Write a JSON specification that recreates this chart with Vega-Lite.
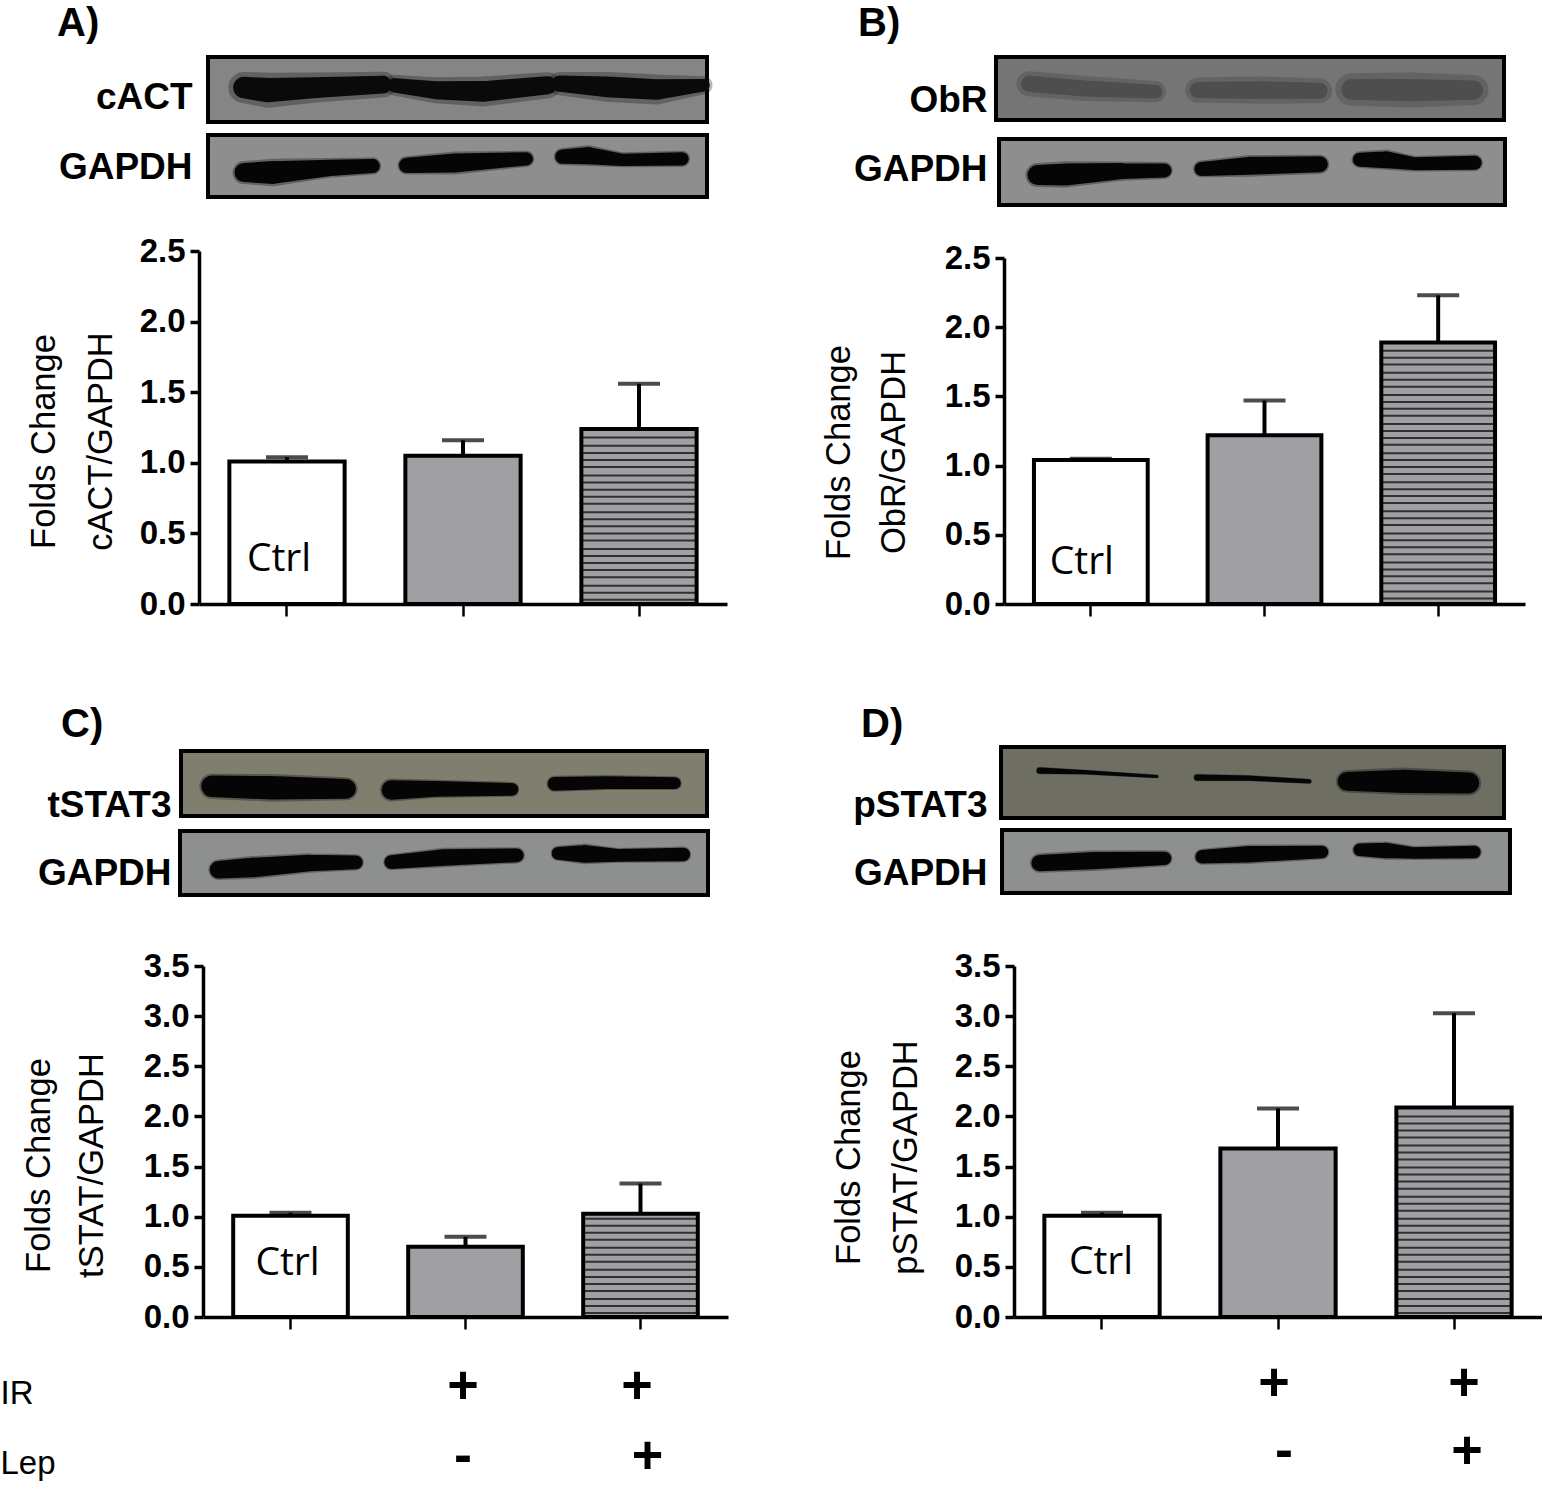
{"$schema":"https://vega.github.io/schema/vega-lite/v6.json","background":"white","padding":{"top":4,"left":0,"right":0,"bottom":0},"bounds":"flush","columns":2,"align":"each","spacing":{"row":0,"column":277},
"config":{"view":{"stroke":null},"axis":{"labelFont":"Liberation Sans","titleFont":"Liberation Sans","labelColor":"#000","titleColor":"#000","grid":false},"text":{"color":"#000"}},
"datasets":{
"bands":[
{"l":"A1","b":1,"x":7.2,"y":0.53,"t":0.24},{"l":"A1","b":1,"x":12,"y":0.49,"t":0.27},{"l":"A1","b":1,"x":21.6,"y":0.53,"t":0.23},{"l":"A1","b":1,"x":35,"y":0.575,"t":0.2},
{"l":"A1","b":2,"x":37.4,"y":0.565,"t":0.16},{"l":"A1","b":2,"x":45.6,"y":0.49,"t":0.2},{"l":"A1","b":2,"x":55.2,"y":0.47,"t":0.23},{"l":"A1","b":2,"x":68.1,"y":0.565,"t":0.2},
{"l":"A1","b":3,"x":70.5,"y":0.59,"t":0.18},{"l":"A1","b":3,"x":80,"y":0.54,"t":0.23},{"l":"A1","b":3,"x":89.9,"y":0.5,"t":0.23},{"l":"A1","b":3,"x":99.3,"y":0.565,"t":0.14},
{"l":"A2","b":1,"x":7.2,"y":0.395,"t":0.2},{"l":"A2","b":1,"x":13,"y":0.395,"t":0.24},{"l":"A2","b":1,"x":24.5,"y":0.47,"t":0.17},{"l":"A2","b":1,"x":33,"y":0.5,"t":0.15},
{"l":"A2","b":2,"x":39.8,"y":0.51,"t":0.16},{"l":"A2","b":2,"x":49.4,"y":0.55,"t":0.2},{"l":"A2","b":2,"x":63.8,"y":0.615,"t":0.14},
{"l":"A2","b":3,"x":71,"y":0.65,"t":0.15},{"l":"A2","b":3,"x":76.3,"y":0.667,"t":0.18},{"l":"A2","b":3,"x":83,"y":0.6,"t":0.13},{"l":"A2","b":3,"x":95,"y":0.615,"t":0.14},
{"l":"B1","b":1,"x":6.5,"y":0.575,"t":0.2},{"l":"B1","b":1,"x":17.5,"y":0.5,"t":0.2},{"l":"B1","b":1,"x":31.4,"y":0.45,"t":0.17},
{"l":"B1","b":2,"x":39.7,"y":0.475,"t":0.2},{"l":"B1","b":2,"x":51.7,"y":0.475,"t":0.22},{"l":"B1","b":2,"x":63.7,"y":0.465,"t":0.2},
{"l":"B1","b":3,"x":70,"y":0.485,"t":0.26},{"l":"B1","b":3,"x":82,"y":0.475,"t":0.28},{"l":"B1","b":3,"x":94,"y":0.475,"t":0.24},
{"l":"B2","b":1,"x":7.6,"y":0.453,"t":0.2},{"l":"B2","b":1,"x":13.2,"y":0.463,"t":0.22},{"l":"B2","b":1,"x":24.3,"y":0.514,"t":0.16},{"l":"B2","b":1,"x":32.7,"y":0.523,"t":0.14},
{"l":"B2","b":2,"x":40,"y":0.547,"t":0.14},{"l":"B2","b":2,"x":49.4,"y":0.593,"t":0.18},{"l":"B2","b":2,"x":63.4,"y":0.617,"t":0.16},
{"l":"B2","b":3,"x":71.3,"y":0.687,"t":0.14},{"l":"B2","b":3,"x":76.4,"y":0.687,"t":0.17},{"l":"B2","b":3,"x":82,"y":0.626,"t":0.13},{"l":"B2","b":3,"x":94,"y":0.64,"t":0.14},
{"l":"C1","b":1,"x":5.9,"y":0.457,"t":0.22},{"l":"C1","b":1,"x":17.3,"y":0.433,"t":0.24},{"l":"C1","b":1,"x":31.4,"y":0.418,"t":0.2},
{"l":"C1","b":2,"x":40,"y":0.4,"t":0.2},{"l":"C1","b":2,"x":48.3,"y":0.418,"t":0.16},{"l":"C1","b":2,"x":62.9,"y":0.41,"t":0.13},
{"l":"C1","b":3,"x":71,"y":0.495,"t":0.14},{"l":"C1","b":3,"x":81,"y":0.514,"t":0.13},{"l":"C1","b":3,"x":93.9,"y":0.505,"t":0.12},
{"l":"C2","b":1,"x":7.3,"y":0.395,"t":0.18},{"l":"C2","b":1,"x":13.7,"y":0.429,"t":0.2},{"l":"C2","b":1,"x":24.6,"y":0.5,"t":0.17},{"l":"C2","b":1,"x":33.3,"y":0.51,"t":0.14},
{"l":"C2","b":2,"x":40,"y":0.514,"t":0.14},{"l":"C2","b":2,"x":50,"y":0.586,"t":0.17},{"l":"C2","b":2,"x":63.8,"y":0.619,"t":0.14},
{"l":"C2","b":3,"x":71.6,"y":0.652,"t":0.13},{"l":"C2","b":3,"x":76.6,"y":0.643,"t":0.18},{"l":"C2","b":3,"x":83,"y":0.619,"t":0.13},{"l":"C2","b":3,"x":95.3,"y":0.633,"t":0.14},
{"l":"D1","b":1,"x":7.7,"y":0.668,"t":0.06},{"l":"D1","b":1,"x":16.5,"y":0.645,"t":0.04},{"l":"D1","b":1,"x":31,"y":0.585,"t":0.03},
{"l":"D1","b":2,"x":39,"y":0.57,"t":0.06},{"l":"D1","b":2,"x":49.2,"y":0.562,"t":0.05},{"l":"D1","b":2,"x":61.3,"y":0.516,"t":0.04},
{"l":"D1","b":3,"x":68.8,"y":0.516,"t":0.18},{"l":"D1","b":3,"x":80,"y":0.516,"t":0.22},{"l":"D1","b":3,"x":93,"y":0.493,"t":0.2},
{"l":"D2","b":1,"x":7.4,"y":0.475,"t":0.17},{"l":"D2","b":1,"x":18,"y":0.515,"t":0.18},{"l":"D2","b":1,"x":32,"y":0.55,"t":0.14},
{"l":"D2","b":2,"x":39.4,"y":0.575,"t":0.14},{"l":"D2","b":2,"x":48.6,"y":0.615,"t":0.17},{"l":"D2","b":2,"x":63,"y":0.65,"t":0.13},
{"l":"D2","b":3,"x":70.4,"y":0.685,"t":0.13},{"l":"D2","b":3,"x":75.5,"y":0.675,"t":0.16},{"l":"D2","b":3,"x":81,"y":0.635,"t":0.12},{"l":"D2","b":3,"x":93,"y":0.65,"t":0.13}
],
"bars":[
{"p":"A","g":"Ctrl","v":1.01,"hi":1.04},{"p":"A","g":"IR","v":1.05,"hi":1.16},{"p":"A","g":"IR+Lep","v":1.24,"hi":1.56},
{"p":"B","g":"Ctrl","v":1.04,"hi":1.05},{"p":"B","g":"IR","v":1.22,"hi":1.47},{"p":"B","g":"IR+Lep","v":1.89,"hi":2.23},
{"p":"C","g":"Ctrl","v":1.01,"hi":1.04},{"p":"C","g":"IR","v":0.7,"hi":0.8},{"p":"C","g":"IR+Lep","v":1.03,"hi":1.33},
{"p":"D","g":"Ctrl","v":1.01,"hi":1.04},{"p":"D","g":"IR","v":1.68,"hi":2.08},{"p":"D","g":"IR+Lep","v":2.09,"hi":3.03}
],
"stripes":[
{"p":"A","s":0.03},{"p":"A","s":0.08},{"p":"A","s":0.13},{"p":"A","s":0.19},{"p":"A","s":0.24},{"p":"A","s":0.29},{"p":"A","s":0.34},{"p":"A","s":0.39},{"p":"A","s":0.45},{"p":"A","s":0.5},{"p":"A","s":0.55},{"p":"A","s":0.6},{"p":"A","s":0.65},{"p":"A","s":0.71},{"p":"A","s":0.76},{"p":"A","s":0.81},{"p":"A","s":0.86},{"p":"A","s":0.91},{"p":"A","s":0.97},{"p":"A","s":1.02},{"p":"A","s":1.07},{"p":"A","s":1.12},{"p":"A","s":1.18},
{"p":"B","s":0.04},{"p":"B","s":0.09},{"p":"B","s":0.15},{"p":"B","s":0.2},{"p":"B","s":0.25},{"p":"B","s":0.3},{"p":"B","s":0.36},{"p":"B","s":0.41},{"p":"B","s":0.46},{"p":"B","s":0.51},{"p":"B","s":0.57},{"p":"B","s":0.62},{"p":"B","s":0.67},{"p":"B","s":0.73},{"p":"B","s":0.78},{"p":"B","s":0.83},{"p":"B","s":0.88},{"p":"B","s":0.94},{"p":"B","s":0.99},{"p":"B","s":1.04},{"p":"B","s":1.09},{"p":"B","s":1.15},{"p":"B","s":1.2},{"p":"B","s":1.25},{"p":"B","s":1.3},{"p":"B","s":1.36},{"p":"B","s":1.41},{"p":"B","s":1.46},{"p":"B","s":1.51},{"p":"B","s":1.57},{"p":"B","s":1.62},{"p":"B","s":1.67},{"p":"B","s":1.73},{"p":"B","s":1.78},{"p":"B","s":1.83},
{"p":"C","s":0.04},{"p":"C","s":0.11},{"p":"C","s":0.18},{"p":"C","s":0.26},{"p":"C","s":0.33},{"p":"C","s":0.4},{"p":"C","s":0.47},{"p":"C","s":0.55},{"p":"C","s":0.62},{"p":"C","s":0.69},{"p":"C","s":0.77},{"p":"C","s":0.84},{"p":"C","s":0.91},{"p":"C","s":0.98},
{"p":"D","s":0.04},{"p":"D","s":0.11},{"p":"D","s":0.18},{"p":"D","s":0.26},{"p":"D","s":0.33},{"p":"D","s":0.4},{"p":"D","s":0.47},{"p":"D","s":0.55},{"p":"D","s":0.62},{"p":"D","s":0.69},{"p":"D","s":0.77},{"p":"D","s":0.84},{"p":"D","s":0.91},{"p":"D","s":0.98},{"p":"D","s":1.06},{"p":"D","s":1.13},{"p":"D","s":1.2},{"p":"D","s":1.28},{"p":"D","s":1.35},{"p":"D","s":1.42},{"p":"D","s":1.49},{"p":"D","s":1.57},{"p":"D","s":1.64},{"p":"D","s":1.71},{"p":"D","s":1.79},{"p":"D","s":1.86},{"p":"D","s":1.93},{"p":"D","s":2.0}
],
"frame":[{"a":0,"b":100,"c":0,"d":1}]
},
"concat":[
{"width":528,"height":92,"title":{"text":"A)","anchor":"start","frame":"group","font":"Liberation Sans","fontSize":40,"fontWeight":"bold","dx":-142,"dy":6,"offset":2,"color":"#000"},
"resolve":{"scale":{"size":"independent"}},
"layer":[
{"data":{"name":"frame"},"mark":{"type":"rect","fill":"#858585","stroke":"#000","strokeWidth":4},"encoding":{"x":{"field":"a","type":"quantitative","scale":{"domain":[0,100],"range":[9,508]},"axis":null},"x2":{"field":"b"},"y":{"field":"c","type":"quantitative","scale":{"domain":[0,1],"range":[82,17]},"axis":{"domain":false,"ticks":false,"labels":false,"title":"cACT","titleFontSize":37,"titleFontWeight":"bold","titleAngle":0,"titleAlign":"right","titleBaseline":"middle","titleX":-7,"titleY":57}},"y2":{"field":"d"}}},
{"data":{"name":"bands"},"transform":[{"filter":"datum.l==='A1'"}],"mark":{"type":"trail","color":"#111","opacity":0.3},"encoding":{"x":{"field":"x","type":"quantitative"},"y":{"field":"y","type":"quantitative"},"detail":{"field":"b"},"size":{"field":"t","type":"quantitative","scale":{"domain":[0,1],"range":[0,130]},"legend":null}}},
{"data":{"name":"bands"},"transform":[{"filter":"datum.l==='A1'"}],"mark":{"type":"trail","color":"#0a0a0a"},"encoding":{"x":{"field":"x","type":"quantitative"},"y":{"field":"y","type":"quantitative"},"detail":{"field":"b"},"size":{"field":"t","type":"quantitative","scale":{"domain":[0,1],"range":[0,90]},"legend":null}}}
]},
{"width":538,"height":92,"title":{"text":"B)","anchor":"start","frame":"group","font":"Liberation Sans","fontSize":40,"fontWeight":"bold","dx":-146,"dy":6,"offset":2,"color":"#000"},
"resolve":{"scale":{"size":"independent"}},
"layer":[
{"data":{"name":"frame"},"mark":{"type":"rect","fill":"#757575","stroke":"#000","strokeWidth":4},"encoding":{"x":{"field":"a","type":"quantitative","scale":{"domain":[0,100],"range":[-8,500]},"axis":null},"x2":{"field":"b"},"y":{"field":"c","type":"quantitative","scale":{"domain":[0,1],"range":[80,17]},"axis":{"domain":false,"ticks":false,"labels":false,"title":"ObR","titleFontSize":37,"titleFontWeight":"bold","titleAngle":0,"titleAlign":"right","titleBaseline":"middle","titleX":-17,"titleY":60}},"y2":{"field":"d"}}},
{"data":{"name":"bands"},"transform":[{"filter":"datum.l==='B1'"}],"mark":{"type":"trail","color":"#3a3a3a","opacity":0.3},"encoding":{"x":{"field":"x","type":"quantitative"},"y":{"field":"y","type":"quantitative"},"detail":{"field":"b"},"size":{"field":"t","type":"quantitative","scale":{"domain":[0,1],"range":[0,125]},"legend":null}}},
{"data":{"name":"bands"},"transform":[{"filter":"datum.l==='B1'"}],"mark":{"type":"trail","color":"#3a3a3a","opacity":0.5},"encoding":{"x":{"field":"x","type":"quantitative"},"y":{"field":"y","type":"quantitative"},"detail":{"field":"b"},"size":{"field":"t","type":"quantitative","scale":{"domain":[0,1],"range":[0,80]},"legend":null}}}
]},
{"width":528,"height":108,"resolve":{"scale":{"size":"independent"}},
"layer":[
{"data":{"name":"frame"},"mark":{"type":"rect","fill":"#8e8e8e","stroke":"#000","strokeWidth":4},"encoding":{"x":{"field":"a","type":"quantitative","scale":{"domain":[0,100],"range":[9,508]},"axis":null},"x2":{"field":"b"},"y":{"field":"c","type":"quantitative","scale":{"domain":[0,1],"range":[65,3]},"axis":{"domain":false,"ticks":false,"labels":false,"title":"GAPDH","titleFontSize":37,"titleFontWeight":"bold","titleAngle":0,"titleAlign":"right","titleBaseline":"middle","titleX":-7,"titleY":35}},"y2":{"field":"d"}}},
{"data":{"name":"bands"},"transform":[{"filter":"datum.l==='A2'"}],"mark":{"type":"trail","color":"#111","opacity":0.35},"encoding":{"x":{"field":"x","type":"quantitative"},"y":{"field":"y","type":"quantitative"},"detail":{"field":"b"},"size":{"field":"t","type":"quantitative","scale":{"domain":[0,1],"range":[0,115]},"legend":null}}},
{"data":{"name":"bands"},"transform":[{"filter":"datum.l==='A2'"}],"mark":{"type":"trail","color":"#050505"},"encoding":{"x":{"field":"x","type":"quantitative"},"y":{"field":"y","type":"quantitative"},"detail":{"field":"b"},"size":{"field":"t","type":"quantitative","scale":{"domain":[0,1],"range":[0,95]},"legend":null}}}
]},
{"width":538,"height":108,"resolve":{"scale":{"size":"independent"}},
"layer":[
{"data":{"name":"frame"},"mark":{"type":"rect","fill":"#8e8e8e","stroke":"#000","strokeWidth":4},"encoding":{"x":{"field":"a","type":"quantitative","scale":{"domain":[0,100],"range":[-5,501]},"axis":null},"x2":{"field":"b"},"y":{"field":"c","type":"quantitative","scale":{"domain":[0,1],"range":[73,7]},"axis":{"domain":false,"ticks":false,"labels":false,"title":"GAPDH","titleFontSize":37,"titleFontWeight":"bold","titleAngle":0,"titleAlign":"right","titleBaseline":"middle","titleX":-17,"titleY":37}},"y2":{"field":"d"}}},
{"data":{"name":"bands"},"transform":[{"filter":"datum.l==='B2'"}],"mark":{"type":"trail","color":"#111","opacity":0.35},"encoding":{"x":{"field":"x","type":"quantitative"},"y":{"field":"y","type":"quantitative"},"detail":{"field":"b"},"size":{"field":"t","type":"quantitative","scale":{"domain":[0,1],"range":[0,120]},"legend":null}}},
{"data":{"name":"bands"},"transform":[{"filter":"datum.l==='B2'"}],"mark":{"type":"trail","color":"#050505"},"encoding":{"x":{"field":"x","type":"quantitative"},"y":{"field":"y","type":"quantitative"},"detail":{"field":"b"},"size":{"field":"t","type":"quantitative","scale":{"domain":[0,1],"range":[0,100]},"legend":null}}}
]},
{"width":528,"height":364,"encoding":{"x":{"field":"g","type":"nominal","scale":{"domain":["Ctrl","IR","IR+Lep"],"range":[0,528],"paddingInner":0.345,"paddingOuter":0.1725},"axis":{"title":null,"labels":false,"domainWidth":3.5,"domainColor":"#000","tickWidth":2.5,"tickColor":"#000","tickSize":12}}},
"layer":[
{"data":{"name":"bars"},"transform":[{"filter":"datum.p==='A'"}],"mark":{"type":"rule","strokeWidth":4,"color":"#000"},"encoding":{"y":{"field":"v","type":"quantitative","scale":{"domain":[0,2.5],"range":[364,11]},"axis":{"values":[0,0.5,1,1.5,2,2.5],"format":".1f","labelFontSize":33,"labelFontWeight":"bold","labelPadding":5,"domainWidth":3.5,"domainColor":"#000","tickWidth":3.5,"tickColor":"#000","tickSize":9,"title":["Folds Change","cACT/GAPDH"],"titleFontSize":34.5,"titleFontWeight":"normal","titleAngle":-90,"titleAlign":"center","titleBaseline":"alphabetic","titleLineHeight":57,"titleX":-145,"titleY":201}},"y2":{"field":"hi"}}},
{"data":{"name":"bars"},"transform":[{"filter":"datum.p==='A'"}],"mark":{"type":"tick","size":42,"thickness":4,"color":"#000"},"encoding":{"y":{"field":"hi","type":"quantitative","scale":{"domain":[0,2.5],"range":[364,11]}}}},
{"data":{"name":"bars"},"transform":[{"filter":"datum.p==='A'"}],"mark":{"type":"bar","stroke":"#000","strokeWidth":4},"encoding":{"y":{"field":"v","type":"quantitative","scale":{"domain":[0,2.5],"range":[364,11]}},"fill":{"field":"g","type":"nominal","scale":{"domain":["Ctrl","IR","IR+Lep"],"range":["#ffffff","#a0a0a4","#a0a0a4"]},"legend":null}}},
{"data":{"name":"stripes"},"transform":[{"filter":"datum.p==='A'"}],"mark":{"type":"tick","size":114,"thickness":2,"color":"#000"},"encoding":{"x":{"datum":"IR+Lep","type":"nominal","scale":{"domain":["Ctrl","IR","IR+Lep"],"range":[0,528],"paddingInner":0.345,"paddingOuter":0.1725}},"y":{"field":"s","type":"quantitative","scale":{"domain":[0,2.5],"range":[364,11]}}}},
{"data":{"values":[{"g":"Ctrl","t":"Ctrl","y":0.32}]},"mark":{"type":"text","font":"Open Sans","fontSize":39,"dx":-8},"encoding":{"text":{"field":"t","type":"nominal"},"y":{"field":"y","type":"quantitative","scale":{"domain":[0,2.5],"range":[364,11]}}}}
]},
{"width":538,"height":364,"encoding":{"x":{"field":"g","type":"nominal","scale":{"domain":["Ctrl","IR","IR+Lep"],"range":[0,521],"paddingInner":0.345,"paddingOuter":0.1725},"axis":{"title":null,"labels":false,"domainWidth":3.5,"domainColor":"#000","tickWidth":2.5,"tickColor":"#000","tickSize":12}}},
"layer":[
{"data":{"name":"bars"},"transform":[{"filter":"datum.p==='B'"}],"mark":{"type":"rule","strokeWidth":4,"color":"#000"},"encoding":{"y":{"field":"v","type":"quantitative","scale":{"domain":[0,2.5],"range":[364,18]},"axis":{"values":[0,0.5,1,1.5,2,2.5],"format":".1f","labelFontSize":33,"labelFontWeight":"bold","labelPadding":5,"domainWidth":3.5,"domainColor":"#000","tickWidth":3.5,"tickColor":"#000","tickSize":9,"title":["Folds Change","ObR/GAPDH"],"titleFontSize":34.5,"titleFontWeight":"normal","titleAngle":-90,"titleAlign":"center","titleBaseline":"alphabetic","titleLineHeight":55,"titleX":-155,"titleY":212}},"y2":{"field":"hi"}}},
{"data":{"name":"bars"},"transform":[{"filter":"datum.p==='B'"}],"mark":{"type":"tick","size":42,"thickness":4,"color":"#000"},"encoding":{"y":{"field":"hi","type":"quantitative","scale":{"domain":[0,2.5],"range":[364,18]}}}},
{"data":{"name":"bars"},"transform":[{"filter":"datum.p==='B'"}],"mark":{"type":"bar","stroke":"#000","strokeWidth":4},"encoding":{"y":{"field":"v","type":"quantitative","scale":{"domain":[0,2.5],"range":[364,18]}},"fill":{"field":"g","type":"nominal","scale":{"domain":["Ctrl","IR","IR+Lep"],"range":["#ffffff","#a0a0a4","#a0a0a4"]},"legend":null}}},
{"data":{"name":"stripes"},"transform":[{"filter":"datum.p==='B'"}],"mark":{"type":"tick","size":112,"thickness":2,"color":"#000"},"encoding":{"x":{"datum":"IR+Lep","type":"nominal","scale":{"domain":["Ctrl","IR","IR+Lep"],"range":[0,521],"paddingInner":0.345,"paddingOuter":0.1725}},"y":{"field":"s","type":"quantitative","scale":{"domain":[0,2.5],"range":[364,18]}}}},
{"data":{"values":[{"g":"Ctrl","t":"Ctrl","y":0.3}]},"mark":{"type":"text","font":"Open Sans","fontSize":39,"dx":-9},"encoding":{"text":{"field":"t","type":"nominal"},"y":{"field":"y","type":"quantitative","scale":{"domain":[0,2.5],"range":[364,18]}}}}
]},
{"width":528,"height":220,"title":{"text":"C)","anchor":"start","frame":"group","font":"Liberation Sans","fontSize":40,"fontWeight":"bold","dx":-138,"dy":143,"offset":2,"color":"#000"},
"resolve":{"scale":{"size":"independent"}},
"layer":[
{"data":{"name":"frame"},"mark":{"type":"rect","fill":"#807e6e","stroke":"#000","strokeWidth":4},"encoding":{"x":{"field":"a","type":"quantitative","scale":{"domain":[0,100],"range":[-18,508]},"axis":null},"x2":{"field":"b"},"y":{"field":"c","type":"quantitative","scale":{"domain":[0,1],"range":[212,147]},"axis":{"domain":false,"ticks":false,"labels":false,"title":"tSTAT3","titleFontSize":37,"titleFontWeight":"bold","titleAngle":0,"titleAlign":"right","titleBaseline":"middle","titleX":-28,"titleY":201}},"y2":{"field":"d"}}},
{"data":{"name":"bands"},"transform":[{"filter":"datum.l==='C1'"}],"mark":{"type":"trail","color":"#111","opacity":0.35},"encoding":{"x":{"field":"x","type":"quantitative"},"y":{"field":"y","type":"quantitative"},"detail":{"field":"b"},"size":{"field":"t","type":"quantitative","scale":{"domain":[0,1],"range":[0,115]},"legend":null}}},
{"data":{"name":"bands"},"transform":[{"filter":"datum.l==='C1'"}],"mark":{"type":"trail","color":"#050505"},"encoding":{"x":{"field":"x","type":"quantitative"},"y":{"field":"y","type":"quantitative"},"detail":{"field":"b"},"size":{"field":"t","type":"quantitative","scale":{"domain":[0,1],"range":[0,98]},"legend":null}}}
]},
{"width":538,"height":220,"title":{"text":"D)","anchor":"start","frame":"group","font":"Liberation Sans","fontSize":40,"fontWeight":"bold","dx":-143,"dy":143,"offset":2,"color":"#000"},
"resolve":{"scale":{"size":"independent"}},
"layer":[
{"data":{"name":"frame"},"mark":{"type":"rect","fill":"#6f6e62","stroke":"#000","strokeWidth":4},"encoding":{"x":{"field":"a","type":"quantitative","scale":{"domain":[0,100],"range":[-3,500]},"axis":null},"x2":{"field":"b"},"y":{"field":"c","type":"quantitative","scale":{"domain":[0,1],"range":[214,143]},"axis":{"domain":false,"ticks":false,"labels":false,"title":"pSTAT3","titleFontSize":37,"titleFontWeight":"bold","titleAngle":0,"titleAlign":"right","titleBaseline":"middle","titleX":-17,"titleY":201}},"y2":{"field":"d"}}},
{"data":{"name":"bands"},"transform":[{"filter":"datum.l==='D1'"}],"mark":{"type":"trail","color":"#111","opacity":0.35},"encoding":{"x":{"field":"x","type":"quantitative"},"y":{"field":"y","type":"quantitative"},"detail":{"field":"b"},"size":{"field":"t","type":"quantitative","scale":{"domain":[0,1],"range":[0,125]},"legend":null}}},
{"data":{"name":"bands"},"transform":[{"filter":"datum.l==='D1'"}],"mark":{"type":"trail","color":"#050505"},"encoding":{"x":{"field":"x","type":"quantitative"},"y":{"field":"y","type":"quantitative"},"detail":{"field":"b"},"size":{"field":"t","type":"quantitative","scale":{"domain":[0,1],"range":[0,105]},"legend":null}}}
]},
{"width":528,"height":76,"resolve":{"scale":{"size":"independent"}},
"layer":[
{"data":{"name":"frame"},"mark":{"type":"rect","fill":"#8e9090","stroke":"#000","strokeWidth":4},"encoding":{"x":{"field":"a","type":"quantitative","scale":{"domain":[0,100],"range":[-19,509]},"axis":null},"x2":{"field":"b"},"y":{"field":"c","type":"quantitative","scale":{"domain":[0,1],"range":[71,7]},"axis":{"domain":false,"ticks":false,"labels":false,"title":"GAPDH","titleFontSize":37,"titleFontWeight":"bold","titleAngle":0,"titleAlign":"right","titleBaseline":"middle","titleX":-28,"titleY":49}},"y2":{"field":"d"}}},
{"data":{"name":"bands"},"transform":[{"filter":"datum.l==='C2'"}],"mark":{"type":"trail","color":"#111","opacity":0.35},"encoding":{"x":{"field":"x","type":"quantitative"},"y":{"field":"y","type":"quantitative"},"detail":{"field":"b"},"size":{"field":"t","type":"quantitative","scale":{"domain":[0,1],"range":[0,115]},"legend":null}}},
{"data":{"name":"bands"},"transform":[{"filter":"datum.l==='C2'"}],"mark":{"type":"trail","color":"#050505"},"encoding":{"x":{"field":"x","type":"quantitative"},"y":{"field":"y","type":"quantitative"},"detail":{"field":"b"},"size":{"field":"t","type":"quantitative","scale":{"domain":[0,1],"range":[0,98]},"legend":null}}}
]},
{"width":538,"height":76,"resolve":{"scale":{"size":"independent"}},
"layer":[
{"data":{"name":"frame"},"mark":{"type":"rect","fill":"#8e9090","stroke":"#000","strokeWidth":4},"encoding":{"x":{"field":"a","type":"quantitative","scale":{"domain":[0,100],"range":[-2,506]},"axis":null},"x2":{"field":"b"},"y":{"field":"c","type":"quantitative","scale":{"domain":[0,1],"range":[69,6]},"axis":{"domain":false,"ticks":false,"labels":false,"title":"GAPDH","titleFontSize":37,"titleFontWeight":"bold","titleAngle":0,"titleAlign":"right","titleBaseline":"middle","titleX":-17,"titleY":49}},"y2":{"field":"d"}}},
{"data":{"name":"bands"},"transform":[{"filter":"datum.l==='D2'"}],"mark":{"type":"trail","color":"#111","opacity":0.35},"encoding":{"x":{"field":"x","type":"quantitative"},"y":{"field":"y","type":"quantitative"},"detail":{"field":"b"},"size":{"field":"t","type":"quantitative","scale":{"domain":[0,1],"range":[0,115]},"legend":null}}},
{"data":{"name":"bands"},"transform":[{"filter":"datum.l==='D2'"}],"mark":{"type":"trail","color":"#050505"},"encoding":{"x":{"field":"x","type":"quantitative"},"y":{"field":"y","type":"quantitative"},"detail":{"field":"b"},"size":{"field":"t","type":"quantitative","scale":{"domain":[0,1],"range":[0,96]},"legend":null}}}
]},
{"width":528,"height":417,"encoding":{"x":{"field":"g","type":"nominal","scale":{"domain":["Ctrl","IR","IR+Lep"],"range":[4,529],"paddingInner":0.345,"paddingOuter":0.1725},"axis":{"title":null,"labels":false,"domainWidth":3.5,"domainColor":"#000","tickWidth":2.5,"tickColor":"#000","tickSize":12}}},
"layer":[
{"data":{"name":"bars"},"transform":[{"filter":"datum.p==='C'"}],"mark":{"type":"rule","strokeWidth":4,"color":"#000"},"encoding":{"y":{"field":"v","type":"quantitative","scale":{"domain":[0,3.5],"range":[417,66]},"axis":{"offset":-4,"values":[0,0.5,1,1.5,2,2.5,3,3.5],"format":".1f","labelFontSize":33,"labelFontWeight":"bold","labelPadding":5,"domainWidth":3.5,"domainColor":"#000","tickWidth":3.5,"tickColor":"#000","tickSize":9,"title":["Folds Change","tSTAT/GAPDH"],"titleFontSize":34.5,"titleFontWeight":"normal","titleAngle":-90,"titleAlign":"center","titleBaseline":"alphabetic","titleLineHeight":53,"titleX":-154,"titleY":265}},"y2":{"field":"hi"}}},
{"data":{"name":"bars"},"transform":[{"filter":"datum.p==='C'"}],"mark":{"type":"tick","size":42,"thickness":4,"color":"#000"},"encoding":{"y":{"field":"hi","type":"quantitative","scale":{"domain":[0,3.5],"range":[417,66]}}}},
{"data":{"name":"bars"},"transform":[{"filter":"datum.p==='C'"}],"mark":{"type":"bar","stroke":"#000","strokeWidth":4},"encoding":{"y":{"field":"v","type":"quantitative","scale":{"domain":[0,3.5],"range":[417,66]}},"fill":{"field":"g","type":"nominal","scale":{"domain":["Ctrl","IR","IR+Lep"],"range":["#ffffff","#a0a0a4","#a0a0a4"]},"legend":null}}},
{"data":{"name":"stripes"},"transform":[{"filter":"datum.p==='C'"}],"mark":{"type":"tick","size":113,"thickness":2,"color":"#000"},"encoding":{"x":{"datum":"IR+Lep","type":"nominal","scale":{"domain":["Ctrl","IR","IR+Lep"],"range":[4,529],"paddingInner":0.345,"paddingOuter":0.1725}},"y":{"field":"s","type":"quantitative","scale":{"domain":[0,3.5],"range":[417,66]}}}},
{"data":{"values":[{"g":"Ctrl","t":"Ctrl","y":0.54}]},"mark":{"type":"text","font":"Open Sans","fontSize":39,"dx":-3},"encoding":{"text":{"field":"t","type":"nominal"},"y":{"field":"y","type":"quantitative","scale":{"domain":[0,3.5],"range":[417,66]}}}}
]},
{"width":538,"height":417,"encoding":{"x":{"field":"g","type":"nominal","scale":{"domain":["Ctrl","IR","IR+Lep"],"range":[10,538],"paddingInner":0.345,"paddingOuter":0.1725},"axis":{"title":null,"labels":false,"domainWidth":3.5,"domainColor":"#000","tickWidth":2.5,"tickColor":"#000","tickSize":12}}},
"layer":[
{"data":{"name":"bars"},"transform":[{"filter":"datum.p==='D'"}],"mark":{"type":"rule","strokeWidth":4,"color":"#000"},"encoding":{"y":{"field":"v","type":"quantitative","scale":{"domain":[0,3.5],"range":[417,66]},"axis":{"offset":-10,"values":[0,0.5,1,1.5,2,2.5,3,3.5],"format":".1f","labelFontSize":33,"labelFontWeight":"bold","labelPadding":5,"domainWidth":3.5,"domainColor":"#000","tickWidth":3.5,"tickColor":"#000","tickSize":9,"title":["Folds Change","pSTAT/GAPDH"],"titleFontSize":34.5,"titleFontWeight":"normal","titleAngle":-90,"titleAlign":"center","titleBaseline":"alphabetic","titleLineHeight":57,"titleX":-155,"titleY":257}},"y2":{"field":"hi"}}},
{"data":{"name":"bars"},"transform":[{"filter":"datum.p==='D'"}],"mark":{"type":"tick","size":42,"thickness":4,"color":"#000"},"encoding":{"y":{"field":"hi","type":"quantitative","scale":{"domain":[0,3.5],"range":[417,66]}}}},
{"data":{"name":"bars"},"transform":[{"filter":"datum.p==='D'"}],"mark":{"type":"bar","stroke":"#000","strokeWidth":4},"encoding":{"y":{"field":"v","type":"quantitative","scale":{"domain":[0,3.5],"range":[417,66]}},"fill":{"field":"g","type":"nominal","scale":{"domain":["Ctrl","IR","IR+Lep"],"range":["#ffffff","#a0a0a4","#a0a0a4"]},"legend":null}}},
{"data":{"name":"stripes"},"transform":[{"filter":"datum.p==='D'"}],"mark":{"type":"tick","size":114,"thickness":2,"color":"#000"},"encoding":{"x":{"datum":"IR+Lep","type":"nominal","scale":{"domain":["Ctrl","IR","IR+Lep"],"range":[10,538],"paddingInner":0.345,"paddingOuter":0.1725}},"y":{"field":"s","type":"quantitative","scale":{"domain":[0,3.5],"range":[417,66]}}}},
{"data":{"values":[{"g":"Ctrl","t":"Ctrl","y":0.55}]},"mark":{"type":"text","font":"Open Sans","fontSize":39,"dx":-1},"encoding":{"text":{"field":"t","type":"nominal"},"y":{"field":"y","type":"quantitative","scale":{"domain":[0,3.5],"range":[417,66]}}}}
]},
{"width":528,"height":168,"data":{"values":[{"r":"IR","pos":1.986,"t":"+"},{"r":"IR","pos":2.98,"t":"+"},{"r":"Lep","pos":1.986,"t":"-"},{"r":"Lep","pos":3.04,"t":"+"}]},
"mark":{"type":"text","font":"Liberation Sans","fontSize":54,"fontWeight":"bold"},
"encoding":{"text":{"field":"t","type":"nominal"},"x":{"field":"pos","type":"quantitative","scale":{"domain":[0.5,3.5],"range":[4,529]},"axis":null},"y":{"field":"r","type":"nominal","scale":{"type":"point","padding":0,"domain":["IR","Lep"],"range":[70,140]},"axis":{"title":null,"domain":false,"ticks":false,"offset":-4,"labelAlign":"left","labelPadding":203,"labelFontSize":33,"labelOffset":6}}}},
{"width":538,"height":168,"data":{"values":[{"r":"IR","pos":1.977,"t":"+"},{"r":"IR","pos":3.057,"t":"+"},{"r":"Lep","pos":2.034,"t":"-"},{"r":"Lep","pos":3.074,"t":"+"}]},
"mark":{"type":"text","font":"Liberation Sans","fontSize":54,"fontWeight":"bold"},
"encoding":{"text":{"field":"t","type":"nominal"},"x":{"field":"pos","type":"quantitative","scale":{"domain":[0.5,3.5],"range":[10,538]},"axis":null},"y":{"field":"r","type":"nominal","scale":{"type":"point","padding":0,"domain":["IR","Lep"],"range":[67,135]},"axis":null}}}
]}
